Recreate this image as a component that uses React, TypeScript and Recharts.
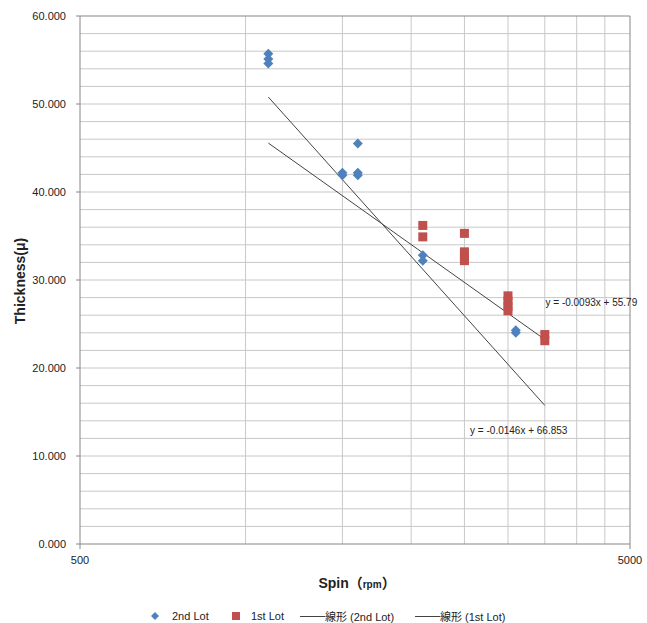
import React from "react";
import {
  ComposedChart,
  Scatter,
  XAxis,
  YAxis,
  ReferenceLine,
  Legend,
  Label,
} from "recharts";

type Pt = { x: number; y: number };

// 2nd Lot measurements (blue diamonds)
const lot2: Pt[] = [
  { x: 1100, y: 55.7 },
  { x: 1100, y: 55.1 },
  { x: 1100, y: 54.6 },
  { x: 1500, y: 42.2 },
  { x: 1500, y: 41.9 },
  { x: 1600, y: 45.5 },
  { x: 1600, y: 42.2 },
  { x: 1600, y: 41.9 },
  { x: 2100, y: 32.8 },
  { x: 2100, y: 32.2 },
  { x: 3100, y: 24.3 },
  { x: 3100, y: 24.0 },
];

// 1st Lot measurements (red squares)
const lot1: Pt[] = [
  { x: 2100, y: 36.2 },
  { x: 2100, y: 34.9 },
  { x: 2500, y: 35.3 },
  { x: 2500, y: 33.2 },
  { x: 2500, y: 32.7 },
  { x: 2500, y: 32.2 },
  { x: 3000, y: 28.2 },
  { x: 3000, y: 27.6 },
  { x: 3000, y: 27.0 },
  { x: 3000, y: 26.5 },
  { x: 3500, y: 23.8 },
  { x: 3500, y: 23.1 },
];

// trendline end points
const trend2: Pt[] = [
  { x: 1100, y: 50.79 },
  { x: 3500, y: 15.75 },
];
const trend1: Pt[] = [
  { x: 1100, y: 45.56 },
  { x: 3500, y: 23.24 },
];

const eqLabels = [
  { x: 3510, y: 27.4, text: "y = -0.0093x + 55.79" },
  { x: 2560, y: 12.85, text: "y = -0.0146x + 66.853" },
];

const xTicks = [500, 5000];
const yTicks = [0, 10, 20, 30, 40, 50, 60];
const xGrid = [1000, 1500, 2000, 2500, 3000, 3500, 4000, 4500];
const yGrid = [
  2, 4, 6, 8, 10, 12, 14, 16, 18, 20, 22, 24, 26, 28, 30, 32, 34, 36, 38, 40,
  42, 44, 46, 48, 50, 52, 54, 56, 58,
];

const FONT = "'Liberation Sans', Arial, 'Noto Sans CJK JP', sans-serif";
const GRID = "#c8c8c8";
const AXIS = "#868686";
const BLUE = "#4f81bd";
const RED = "#c0504d";
const TREND = "#444444";

const Diamond = (p: any) => (
  <polygon
    points={`${p.cx},${p.cy - 5} ${p.cx + 5},${p.cy} ${p.cx},${p.cy + 5} ${p.cx - 5},${p.cy}`}
    fill={BLUE}
  />
);

const Square = (p: any) => (
  <rect x={p.cx - 4.5} y={p.cy - 4.5} width={9} height={9} fill={RED} />
);

const EqText = (p: any) => (
  <text
    x={p.cx}
    y={p.cy}
    dy="0.35em"
    fontSize={10}
    fontFamily={FONT}
    fill="#222"
  >
    {p.payload.text}
  </text>
);

const LegendBox = () => {
  const txt: React.CSSProperties = { fontSize: 11, color: "#222" };
  const line = (
    <span
      style={{
        display: "inline-block",
        width: 25,
        borderTop: `1px solid ${TREND}`,
        verticalAlign: "middle",
      }}
    />
  );
  return (
    <div
      style={{
        height: 24,
        display: "flex",
        alignItems: "center",
        paddingLeft: 150,
        paddingTop: 10,
        boxSizing: "border-box",
        fontFamily: FONT,
        whiteSpace: "nowrap",
      }}
    >
      <svg width={10} height={10} style={{ marginRight: 12 }}>
        <polygon points="5,1 9,5 5,9 1,5" fill={BLUE} />
      </svg>
      <span style={{ ...txt, width: 60 }}>2nd Lot</span>
      <svg width={8} height={8} style={{ marginRight: 11 }}>
        <rect width={8} height={8} fill={RED} />
      </svg>
      <span style={{ ...txt, width: 49 }}>1st Lot</span>
      {line}
      <span style={{ ...txt, width: 90 }}>線形 (2nd Lot)</span>
      {line}
      <span style={txt}>線形 (1st Lot)</span>
    </div>
  );
};

export default function App() {
  return (
    <div style={{ position: "absolute", left: 0, top: 0, background: "#fff" }}>
      <ComposedChart
        width={647}
        height={623}
        margin={{ top: 16, right: 17, left: 0, bottom: 0 }}
      >
        {yGrid.map((v) => (
          <ReferenceLine key={"y" + v} y={v} stroke={GRID} />
        ))}
        {xGrid.map((v) => (
          <ReferenceLine key={"x" + v} x={v} stroke={GRID} />
        ))}
        <ReferenceLine y={60} stroke={AXIS} />
        <ReferenceLine x={5000} stroke={AXIS} />
        <XAxis
          type="number"
          dataKey="x"
          scale="log"
          domain={[500, 5000]}
          ticks={xTicks}
          height={55}
          stroke={AXIS}
          tickSize={5}
          tickMargin={7}
          tick={{ fontSize: 11, fill: "#222", fontFamily: FONT }}
        >
          <Label
            content={(props: any) => {
              const vb = props.viewBox;
              return (
                <text
                  x={vb.x + vb.width / 2 + 2}
                  y={vb.y + 44}
                  textAnchor="middle"
                  fontFamily={FONT}
                  fontWeight="bold"
                  fill="#222"
                >
                  <tspan fontSize={14}>Spin</tspan>
                  <tspan fontSize={14}>（</tspan>
                  <tspan fontSize={10}>rpm</tspan>
                  <tspan fontSize={14}>）</tspan>
                </text>
              );
            }}
          />
        </XAxis>
        <YAxis
          type="number"
          dataKey="y"
          domain={[0, 60]}
          ticks={yTicks}
          width={80}
          stroke={AXIS}
          tickSize={4}
          tickMargin={10}
          tickFormatter={(v: number) => v.toFixed(3)}
          tick={{ fontSize: 11, fill: "#222", fontFamily: FONT }}
        >
          <Label
            content={(props: any) => {
              const vb = props.viewBox;
              const cx = 20;
              const cy = vb.y + vb.height / 2 + 1;
              return (
                <text
                  x={cx}
                  y={cy}
                  transform={`rotate(-90 ${cx} ${cy})`}
                  textAnchor="middle"
                  dy="0.35em"
                  fontFamily={FONT}
                  fontWeight="bold"
                  fontSize={14}
                  fill="#222"
                >
                  Thickness(μ)
                </text>
              );
            }}
          />
        </YAxis>
        <Scatter
          name="線形 (2nd Lot)"
          data={trend2}
          line={{ stroke: TREND, strokeWidth: 1 }}
          shape={() => null}
          isAnimationActive={false}
        />
        <Scatter
          name="線形 (1st Lot)"
          data={trend1}
          line={{ stroke: TREND, strokeWidth: 1 }}
          shape={() => null}
          isAnimationActive={false}
        />
        <Scatter name="2nd Lot" data={lot2} shape={Diamond} isAnimationActive={false} />
        <Scatter name="1st Lot" data={lot1} shape={Square} isAnimationActive={false} />
        <Scatter data={eqLabels} shape={EqText} legendType="none" isAnimationActive={false} />
        <Legend verticalAlign="bottom" content={() => <LegendBox />} />
      </ComposedChart>
    </div>
  );
}
